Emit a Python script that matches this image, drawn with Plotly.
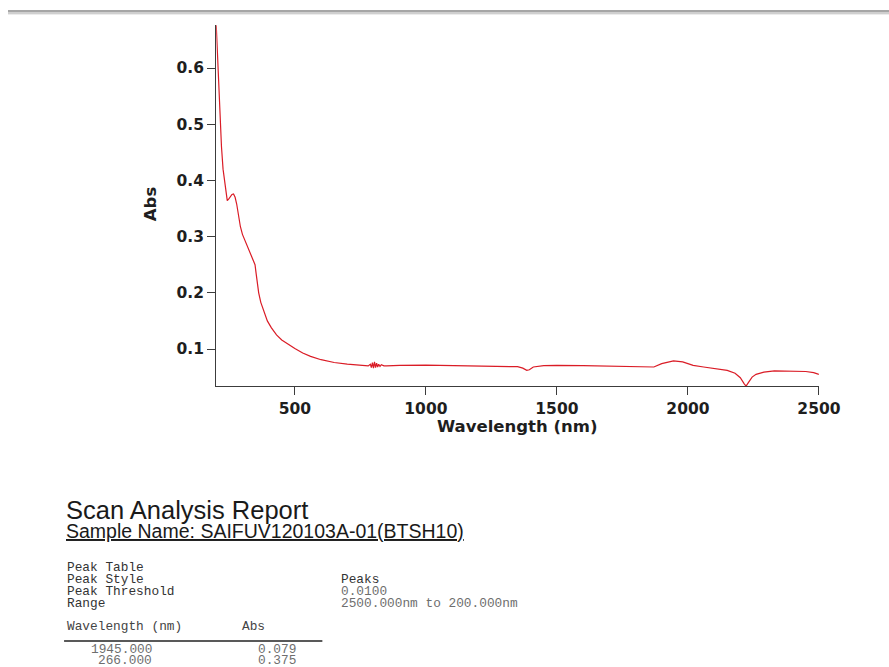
import plotly.graph_objects as go

# UV-Vis-NIR absorbance scan, 200-2500 nm
wavelength_nm = [
    200, 203, 206, 210, 215, 220, 226, 232, 238, 242, 248, 255, 260, 266, 272,
    278, 285, 292, 300, 310, 320, 330, 340, 348, 352, 356, 362, 370, 380, 395,
    410, 430, 450, 475, 500, 530, 560, 600, 650, 700, 750, 780,
    788, 792, 796, 800, 804, 808, 812, 816, 820, 825, 830, 840,
    850, 900, 1000, 1100, 1200, 1300, 1350, 1370, 1385, 1395, 1410, 1450,
    1500, 1600, 1700, 1800, 1870, 1900, 1945, 1980, 2020, 2060, 2100, 2150,
    2180, 2200, 2215, 2222, 2232, 2245, 2260, 2290, 2330, 2400, 2450, 2480, 2500,
]
absorbance = [
    0.676, 0.640, 0.600, 0.550, 0.500, 0.460, 0.420, 0.400, 0.375, 0.364, 0.367,
    0.372, 0.375, 0.376, 0.370, 0.358, 0.335, 0.318, 0.304, 0.293, 0.282, 0.272,
    0.260, 0.250, 0.235, 0.218, 0.200, 0.183, 0.168, 0.150, 0.138, 0.125, 0.116,
    0.108, 0.101, 0.093, 0.087, 0.081, 0.076, 0.073, 0.071, 0.070,
    0.073, 0.067, 0.076, 0.066, 0.077, 0.067, 0.075, 0.068, 0.073, 0.069, 0.072, 0.070,
    0.070, 0.071, 0.0715, 0.071, 0.070, 0.069, 0.0685, 0.066, 0.062, 0.063, 0.068,
    0.0705, 0.071, 0.0705, 0.070, 0.069, 0.068, 0.074, 0.079, 0.077, 0.071, 0.068,
    0.065, 0.062, 0.057, 0.049, 0.038, 0.034, 0.041, 0.050, 0.055, 0.059, 0.061,
    0.061, 0.060, 0.058, 0.055,
]

x_ticks = [500, 1000, 1500, 2000, 2500]
y_ticks = [0.1, 0.2, 0.3, 0.4, 0.5, 0.6]

report_title = "Scan Analysis Report"
sample_name = "Sample Name: SAIFUV120103A-01(BTSH10)"
settings_labels = ["Peak Table", "Peak Style", "Peak Threshold", "Range"]
settings_values = ["", "Peaks", "0.0100", "2500.000nm to 200.000nm"]
peak_wavelengths = ["1945.000", "266.000"]
peak_abs = ["0.079", "0.375"]

# layout grid is expressed on an 889 x 667 page
W, H = 889, 667
FIG_W = 912


def px(x):
    return x / W


def py(y):
    return 1 - y / H


fig = go.Figure()
fig.add_trace(go.Scatter(
    x=wavelength_nm, y=absorbance, mode="lines",
    line=dict(color="rgb(218,28,38)", width=1.2),
    hoverinfo="skip", showlegend=False,
))

tick_font = dict(family="DejaVu Sans", size=15.5, color="#1e1e1e", weight="bold")
axis_common = dict(
    showline=True, linecolor="#3c3c3c", linewidth=1.3,
    ticks="outside", ticklen=8, tickwidth=1.3, tickcolor="#3c3c3c",
    showgrid=False, zeroline=False, tickfont=tick_font,
)

fig.update_layout(
    width=FIG_W, height=H, autosize=False,
    margin=dict(l=0, r=0, t=0, b=0),
    paper_bgcolor="white", plot_bgcolor="white",
    xaxis=dict(domain=[px(216), px(818)], range=[200, 2500],
               tickvals=x_ticks, **axis_common),
    yaxis=dict(domain=[py(386), py(25)], range=[0.0342, 0.6765],
               tickvals=y_ticks, tickformat=".1f", **axis_common),
)

annotations = []
# axis titles
annotations.append(dict(
    text="Wavelength (nm)", x=px(517), y=py(426), xref="paper", yref="paper",
    xanchor="center", yanchor="middle", showarrow=False,
    font=dict(family="DejaVu Sans", size=16.5, color="#1e1e1e", weight="bold"),
))
annotations.append(dict(
    text="Abs", x=px(150), y=py(204), xref="paper", yref="paper",
    xanchor="center", yanchor="middle", showarrow=False, textangle=-90,
    font=dict(family="DejaVu Sans", size=16.5, color="#1e1e1e", weight="bold"),
))

# report header
annotations.append(dict(
    text=report_title, x=px(64), y=py(510), xref="paper", yref="paper",
    xanchor="left", yanchor="middle", showarrow=False,
    font=dict(family="Liberation Sans", size=25.5, color="#1a1a1a"),
))
annotations.append(dict(
    text="<u>" + sample_name + "</u>", x=px(64), y=py(531), xref="paper", yref="paper",
    xanchor="left", yanchor="middle", showarrow=False,
    font=dict(family="Liberation Sans", size=19.5, color="#1a1a1a"),
))

mono = "Liberation Mono"
mono_size = 12.8
row_y = [567, 579, 591.5, 603.5]
for label, value, y in zip(settings_labels, settings_values, row_y):
    annotations.append(dict(
        text=label, x=px(65), y=py(y), xref="paper", yref="paper",
        xanchor="left", yanchor="middle", showarrow=False,
        font=dict(family=mono, size=mono_size, color="#333333"),
    ))
    if value:
        annotations.append(dict(
            text=value, x=px(339), y=py(y), xref="paper", yref="paper",
            xanchor="left", yanchor="middle", showarrow=False,
            font=dict(family=mono, size=mono_size,
                      color="#333333" if value == "Peaks" else "#6e6e6e"),
        ))

annotations.append(dict(
    text="Wavelength (nm)", x=px(65), y=py(626), xref="paper", yref="paper",
    xanchor="left", yanchor="middle", showarrow=False,
    font=dict(family=mono, size=mono_size, color="#444444"),
))
annotations.append(dict(
    text="Abs", x=px(240), y=py(626), xref="paper", yref="paper",
    xanchor="left", yanchor="middle", showarrow=False,
    font=dict(family=mono, size=mono_size, color="#444444"),
))
for wl, ab, y in zip(peak_wavelengths, peak_abs, [649, 660]):
    annotations.append(dict(
        text=wl, x=px(154), y=py(y), xref="paper", yref="paper",
        xanchor="right", yanchor="middle", showarrow=False,
        font=dict(family=mono, size=mono_size, color="#6e6e6e"),
    ))
    annotations.append(dict(
        text=ab, x=px(298), y=py(y), xref="paper", yref="paper",
        xanchor="right", yanchor="middle", showarrow=False,
        font=dict(family=mono, size=mono_size, color="#6e6e6e"),
    ))

fig.update_layout(annotations=annotations)

shapes = [
    # page separator bar at the top
    dict(type="rect", xref="paper", yref="paper", x0=px(8), x1=1,
         y0=py(12), y1=py(10), line=dict(width=0), fillcolor="#a6a6a6"),
    dict(type="rect", xref="paper", yref="paper", x0=px(8), x1=1,
         y0=py(14), y1=py(12), line=dict(width=0), fillcolor="#cfcfcf"),
    dict(type="rect", xref="paper", yref="paper", x0=px(8), x1=1,
         y0=py(15), y1=py(14), line=dict(width=0), fillcolor="#ececec"),
    # rule under the peak table header
    dict(type="line", xref="paper", yref="paper", x0=px(64), x1=px(322),
         y0=py(641), y1=py(641), line=dict(color="#222222", width=1.4)),
]
fig.update_layout(shapes=shapes)

fig.write_html("out.html", config={"responsive": False})
